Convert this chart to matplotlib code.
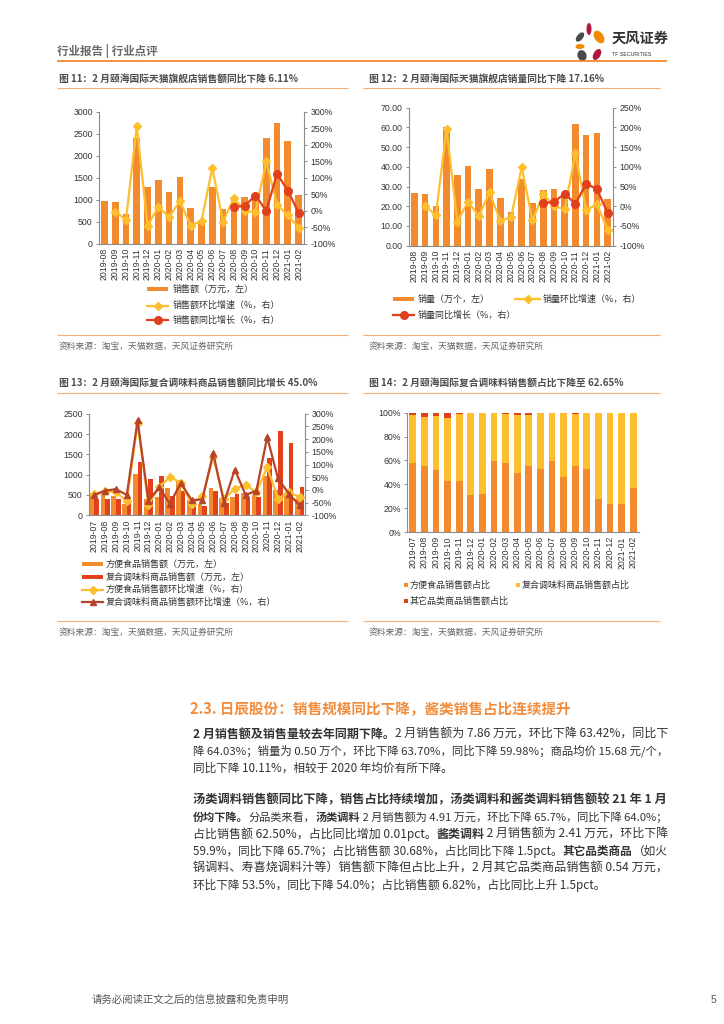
import matplotlib
matplotlib.use('Agg')
import matplotlib.pyplot as plt
from matplotlib.patches import Rectangle, Ellipse
from matplotlib.ticker import FuncFormatter, MultipleLocator
from matplotlib import font_manager
from matplotlib.ft2font import FT2Font
import numpy as np

plt.rcParams['font.family'] = ['Noto Sans CJK SC', 'DejaVu Sans']
plt.rcParams['axes.unicode_minus'] = False

nan = np.nan

# ---------------- data ----------------
months11 = ['2019-08', '2019-09', '2019-10', '2019-11', '2019-12', '2020-01', '2020-02',
            '2020-03', '2020-04', '2020-05', '2020-06', '2020-07', '2020-08', '2020-09',
            '2020-10', '2020-11', '2020-12', '2021-01', '2021-02']
sales11 = [975, 944, 678, 2400, 1300, 1450, 1170, 1510, 807, 540, 1300, 800, 1066, 1066,
           1010, 2400, 2750, 2340, 1100]
mom11 = [nan, -3, -27, 256, -45, 11, -19, 29, -45, -31, 129, -33, 38, 0, -5, 150, 18, -14, -51]
yoy11 = [nan] * 12 + [11, 15, 46, 0, 112, 61, -6]

months12 = months11
vol12 = [26.5, 26.3, 20.2, 60.1, 36.0, 40.3, 28.7, 39.1, 24.1, 17.2, 33.8, 21.6, 28.2, 28.7,
         26.5, 61.8, 55.9, 57.3, 23.8]
mom12 = [nan, 0, -22, 195, -39, 12, -25, 35, -37, -28, 99, -36, 31, 1, -8, 134, -10, 5, -59]
yoy12 = [nan] * 12 + [8, 11, 32, 6, 57, 44, -17]

months13 = ['2019-07'] + months11
conv13 = [560, 530, 480, 270, 1010, 400, 450, 680, 860, 387, 290, 680, 430, 450, 540, 490,
          960, 620, 550, 400]
comp13 = [394, 390, 410, 330, 1312, 886, 976, 470, 600, 360, 225, 590, 295, 531, 425, 440,
          1420, 2080, 1770, 690]
conv_mom13 = [-15, -5, -10, -44, 262, -60, 12, 50, 28, -55, -25, 128, -37, 5, 20, -10, 90,
              -35, -10, -28]
comp_mom13 = [-20, -3, 3, -20, 274, -43, 10, -55, 28, -40, -38, 145, -50, 80, -20, -3, 208,
              45, -15, -61]

months14 = months13
conv14 = [58, 55.3, 52, 43, 43, 31, 31.8, 59.8, 58, 49.7, 55, 53, 59.8, 46.4, 55.6, 52.8,
          27.4, 23.7, 23.7, 36.95]
comp14 = [39.8, 41.1, 45.2, 52.8, 55.6, 68.4, 67.9, 40.0, 40.9, 48.6, 43.3, 46.4, 39.6, 53.3,
          43.6, 46.9, 72.2, 75.9, 75.9, 62.65]
other14 = [2.2, 3.6, 2.8, 4.2, 1.4, 0.6, 0.3, 0.2, 1.1, 1.7, 1.7, 0.6, 0.6, 0.3, 0.8, 0.3,
           0.4, 0.4, 0.4, 0.4]

# ---------------- setup ----------------
W, H = 724, 1024
fig = plt.figure(figsize=(W / 100, H / 100), dpi=100)
page = fig.add_axes([0, 0, 1, 1], zorder=0)
page.set_xlim(0, W)
page.set_ylim(H, 0)
page.axis('off')

CJK = ['Noto Sans CJK SC', 'DejaVu Sans']
NUMF = ['Liberation Sans', 'DejaVu Sans']
ORANGE = '#F28A2E'
YELLOW = '#FDBF2D'
RED = '#E2421B'
LRED = '#E0401E'
DRED = '#B8432B'
AXC = '#8C8C8C'
TXT = '#333333'
LINEO = '#F5B07A'


def add_ax(l, t, r, b):
    ax = fig.add_axes([l / W, 1 - b / H, (r - l) / W, (b - t) / H], zorder=2)
    ax.patch.set_alpha(0)
    return ax


def pct(v, p):
    return '%d%%' % v


def style(ax, ax2=None):
    ax.spines['top'].set_visible(False)
    ax.spines['right'].set_visible(False)
    for s in ['left', 'bottom']:
        ax.spines[s].set_color(AXC)
        ax.spines[s].set_linewidth(0.8)
    ax.tick_params(axis='y', labelsize=6.3, length=2.5, width=0.7, color=AXC, pad=2,
                   labelcolor=TXT, labelfontfamily=NUMF)
    ax.tick_params(axis='x', labelsize=6.3, length=0, pad=3, labelcolor=TXT,
                   labelfontfamily=NUMF, labelrotation=90)
    if ax2 is not None:
        for s in ['top', 'left', 'bottom']:
            ax2.spines[s].set_visible(False)
        ax2.spines['right'].set_color(AXC)
        ax2.spines['right'].set_linewidth(0.8)
        ax2.tick_params(axis='y', labelsize=6.3, length=2.5, width=0.7, color=AXC, pad=2,
                        labelcolor=TXT, labelfontfamily=NUMF)
        ax2.yaxis.set_major_formatter(FuncFormatter(pct))
        ax2.yaxis.set_major_locator(MultipleLocator(50))


def txt(x, y, s, size, color=TXT, weight='normal', ha='left', va='center', family=CJK):
    return page.text(x, y, s, fontsize=size, color=color, fontweight=weight, ha=ha, va=va,
                     family=family)


def hline(x0, x1, y, color, lw):
    page.plot([x0, x1], [y, y], color=color, lw=lw, solid_capstyle='butt')


def leg_rect(x, y, color, w=21, h=4):
    page.add_patch(Rectangle((x, y - h / 2), w, h, color=color, lw=0))


def leg_line(x, y, color, marker, ms, w=21):
    page.plot([x, x + w], [y, y], color=color, lw=1.6)
    page.plot([x + w / 2], [y], marker=marker, color=color, ms=ms, mec=color)


def leg_sq(x, y, color, s=4.5):
    page.add_patch(Rectangle((x - s / 2, y - s / 2), s, s, color=color, lw=0))


# ---------------- header ----------------
txt(57, 51, '行业报告 | 行业点评', 8.3, color='#666666', weight='bold')
hline(57, 667, 61, '#F07F1A', 1.2)
petals = [((589, 29), 5, 12, 0, '#B0173A'),
          ((599, 37), 9, 14, -35, '#F08A00'),
          ((580, 37), 6, 11, 40, '#4A4A4A'),
          ((580, 46.5), 9, 5, 0, '#F08A00'),
          ((582, 55.5), 9, 11, -20, '#4A4A4A'),
          ((597, 54.5), 7, 12, 30, '#B0173A')]
for c, w, h, a, col in petals:
    page.add_patch(Ellipse(c, w, h, angle=a, color=col, lw=0))
txt(612, 39, '天风证券', 10.3, color='#333333', weight='bold')
txt(612, 55, 'TF SECURITIES', 3.8, color='#333333', family=NUMF)

# ---------------- chart 11 ----------------
txt(59, 79, '图 11：2 月颐海国际天猫旗舰店销售额同比下降 6.11%', 7, color='#4D4D4D', weight='bold')
hline(57, 348, 88, LINEO, 0.8)
ax = add_ax(99, 111.7, 304, 243.7)
x = np.arange(len(months11))
ax.bar(x, sales11, width=0.62, color=ORANGE, zorder=2)
ax.set_xlim(-0.5, len(x) - 0.5)
ax.set_ylim(0, 3000)
ax.yaxis.set_major_locator(MultipleLocator(500))
ax.set_xticks(x)
ax.set_xticklabels(months11)
ax2 = ax.twinx()
ax2.plot(x, mom11, color=YELLOW, lw=1.6, marker='D', ms=4, mec=YELLOW)
ax2.plot(x, yoy11, color=LRED, lw=1.6, marker='o', ms=5.5, mec=LRED)
ax2.set_ylim(-100, 300)
style(ax, ax2)
leg_rect(147, 289, ORANGE)
txt(173, 289, '销售额（万元，左）', 6.5)
leg_line(147, 305.5, YELLOW, 'D', 4)
txt(173, 305.5, '销售额环比增速（%，右）', 6.5)
leg_line(147, 320, LRED, 'o', 5.5)
txt(173, 320, '销售额同比增长（%，右）', 6.5)
hline(57, 348, 335, LINEO, 0.8)
txt(59, 346, '资料来源：淘宝，天猫数据，天风证券研究所', 6.3, color='#666666')

# ---------------- chart 12 ----------------
txt(369, 79, '图 12：2 月颐海国际天猫旗舰店销量同比下降 17.16%', 7, color='#4D4D4D', weight='bold')
hline(363, 660, 88, LINEO, 0.8)
ax = add_ax(409, 107.7, 613, 245.7)
x = np.arange(len(months12))
ax.bar(x, vol12, width=0.62, color=ORANGE, zorder=2)
ax.set_xlim(-0.5, len(x) - 0.5)
ax.set_ylim(0, 70)
ax.yaxis.set_major_locator(MultipleLocator(10))
ax.yaxis.set_major_formatter(FuncFormatter(lambda v, p: '%.2f' % v))
ax.set_xticks(x)
ax.set_xticklabels(months12)
ax2 = ax.twinx()
ax2.plot(x, mom12, color=YELLOW, lw=1.6, marker='D', ms=4, mec=YELLOW)
ax2.plot(x, yoy12, color=LRED, lw=1.6, marker='o', ms=5.5, mec=LRED)
ax2.set_ylim(-100, 250)
style(ax, ax2)
leg_rect(393, 299, ORANGE)
txt(418, 299, '销量（万个，左）', 6.5)
leg_line(515, 299, YELLOW, 'D', 4, w=25)
txt(543, 299, '销量环比增速（%，右）', 6.5)
leg_line(393, 315, LRED, 'o', 5.5)
txt(418, 315, '销量同比增长（%，右）', 6.5)
hline(363, 660, 335, LINEO, 0.8)
txt(369, 346, '资料来源：淘宝，天猫数据，天风证券研究所', 6.3, color='#666666')

# ---------------- chart 13 ----------------
txt(59, 383, '图 13：2 月颐海国际复合调味料商品销售额同比增长 45.0%', 7, color='#4D4D4D', weight='bold')
hline(57, 348, 393, LINEO, 0.8)
ax = add_ax(89, 413.7, 305, 515.3)
x = np.arange(len(months13))
ax.bar(x - 0.21, conv13, width=0.42, color=ORANGE, zorder=2)
ax.bar(x + 0.21, comp13, width=0.42, color=RED, zorder=2)
ax.set_xlim(-0.5, len(x) - 0.5)
ax.set_ylim(0, 2500)
ax.yaxis.set_major_locator(MultipleLocator(500))
ax.set_xticks(x)
ax.set_xticklabels(months13)
ax2 = ax.twinx()
ax2.plot(x, conv_mom13, color=YELLOW, lw=1.6, marker='D', ms=4, mec=YELLOW)
ax2.plot(x, comp_mom13, color=DRED, lw=1.6, marker='^', ms=5, mec=DRED)
ax2.set_ylim(-100, 300)
style(ax, ax2)
leg_rect(82, 564, ORANGE)
txt(106, 564, '方便食品销售额（万元，左）', 6.5)
leg_rect(82, 577, RED)
txt(106, 577, '复合调味料商品销售额（万元，左）', 6.5)
leg_line(82, 589.5, YELLOW, 'D', 4)
txt(106, 589.5, '方便食品销售额环比增速（%，右）', 6.5)
leg_line(82, 602, DRED, '^', 5)
txt(106, 602, '复合调味料商品销售额环比增速（%，右）', 6.5)
hline(57, 348, 621, LINEO, 0.8)
txt(59, 632, '资料来源：淘宝，天猫数据，天风证券研究所', 6.3, color='#666666')

# ---------------- chart 14 ----------------
txt(369, 383, '图 14：2 月颐海国际复合调味料销售额占比下降至 62.65%', 7, color='#4D4D4D', weight='bold')
hline(363, 660, 393, LINEO, 0.8)
ax = add_ax(407, 412.7, 639, 532)
x = np.arange(len(months14))
c14 = np.array(conv14)
m14 = np.array(comp14)
ax.bar(x, conv14, width=0.6, color=ORANGE, zorder=2)
ax.bar(x, comp14, width=0.6, bottom=c14, color=YELLOW, zorder=2)
ax.bar(x, other14, width=0.6, bottom=c14 + m14, color=RED, zorder=2)
ax.set_xlim(-0.5, len(x) - 0.5)
ax.set_ylim(0, 100)
ax.yaxis.set_major_locator(MultipleLocator(20))
ax.yaxis.set_major_formatter(FuncFormatter(pct))
ax.set_xticks(x)
ax.set_xticklabels(months14)
style(ax)
leg_sq(406, 585, ORANGE)
txt(410, 585, '方便食品销售额占比', 6.5)
leg_sq(518, 585, YELLOW)
txt(522, 585, '复合调味料商品销售额占比', 6.5)
leg_sq(406, 601, RED)
txt(410, 601, '其它品类商品销售额占比', 6.5)
hline(363, 660, 621, LINEO, 0.8)
txt(369, 632, '资料来源：淘宝，天猫数据，天风证券研究所', 6.3, color='#666666')

# ---------------- section text ----------------
txt(190, 709, '2.3. 日辰股份：销售规模同比下降，酱类销售占比连续提升', 10.5, color='#F08C3C', weight='bold')

BODY = 8.4
EM = BODY * 100 / 72.0


def make_font(weight):
    path = font_manager.findfont(font_manager.FontProperties(family='Noto Sans CJK SC', weight=weight))
    f = FT2Font(path, hinting_factor=1)
    f.set_size(BODY, 100)
    return f


FONTS = {False: make_font('normal'), True: make_font('bold')}
CAL = {}
for b in (False, True):
    g = FONTS[b].load_char(ord('一'))
    a = g.linearHoriAdvance / 65536.0
    CAL[b] = EM / a if a > 0 else 1.0


def adv(s, bold):
    f = FONTS[bold]
    tot = 0.0
    for ch in s:
        g = f.load_char(ord(ch))
        tot += g.linearHoriAdvance / 65536.0 * CAL[bold]
    return tot


def para_line(y, parts, justify=True, x0=193, x1=668):
    widths = [adv(s, b) for s, b in parts]
    natural = sum(widths)
    scale = 1.0
    if justify:
        scale = min(max((x1 - x0) / natural, 0.92), 1.08)
    cx = x0
    for (s, b), w in zip(parts, widths):
        page.text(cx, y, s, fontsize=BODY * scale, color=TXT,
                  fontweight='bold' if b else 'normal', ha='left', va='center', family=CJK)
        cx += w * scale


para_line(734, [('2 月销售额及销售量较去年同期下降。', True),
                ('2 月销售额为 7.86 万元，环比下降 63.42%，同比下', False)])
para_line(751, [('降 64.03%；销量为 0.50 万个，环比下降 63.70%，同比下降 59.98%；商品均价 15.68 元/个，', False)])
para_line(768, [('同比下降 10.11%，相较于 2020 年均价有所下降。', False)], justify=False)

para_line(800, [('汤类调料销售额同比下降，销售占比持续增加，汤类调料和酱类调料销售额较 21 年 1 月', True)])
para_line(817, [('份均下降。', True), ('分品类来看，', False), ('汤类调料', True),
                (' 2 月销售额为 4.91 万元，环比下降 65.7%，同比下降 64.0%；', False)])
para_line(834, [('占比销售额 62.50%，占比同比增加 0.01pct。', False), ('酱类调料', True),
                (' 2 月销售额为 2.41 万元，环比下降', False)])
para_line(851, [('59.9%，同比下降 65.7%；占比销售额 30.68%，占比同比下降 1.5pct。', False),
                ('其它品类商品', True), ('（如火', False)])
para_line(868, [('锅调料、寿喜烧调料汁等）销售额下降但占比上升，2 月其它品类商品销售额 0.54 万元，', False)])
para_line(885, [('环比下降 53.5%，同比下降 54.0%；占比销售额 6.82%，占比同比上升 1.5pct。', False)],
          justify=False)

# ---------------- footer ----------------
txt(92, 1000, '请务必阅读正文之后的信息披露和免责申明', 7.5, color='#555555')
txt(716, 1000, '5', 7.5, color='#555555', ha='right', family=NUMF)

fig.savefig('out.png', dpi=100)
